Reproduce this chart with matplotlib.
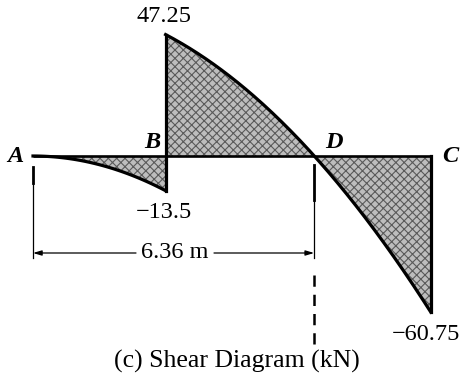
import numpy as np
import matplotlib
matplotlib.use("Agg")
import matplotlib.pyplot as plt

# ---- data ----
pos_A, pos_B, pos_D, pos_C = 0.0, 3.0, 6.36, 9.0
V_B_left = -13.5
V_B_right = 47.25
V_C = -60.75
point_labels = ["A", "B", "D", "C"]
dim_label = "6.36 m"
title = "(c) Shear Diagram (kN)"

# shear function pieces (triangular load, w/(2L) = 1.5 kN/m^2)
k = -V_B_left / pos_B**2           # 1.5
x1 = np.linspace(pos_A, pos_B, 100)
v1 = -k * x1**2
x2 = np.linspace(pos_B, pos_C, 200)
v2 = (V_B_right - V_B_left) - k * x2**2

# ---- figure ----
W, H = 462, 377
fig = plt.figure(figsize=(W/100, H/100), dpi=100)
ax = fig.add_axes([0, 0, 1, 1])
sx, sy = 44.2, 2.57            # px per unit
x0px, y0px = 33, 156
ax.set_xlim(-x0px/sx, (W - x0px)/sx)
ax.set_ylim((y0px - H)/sy, y0px/sy)
ax.axis("off")

def py(p):  # pixel row -> data y
    return (y0px - p)/sy

def px(p):  # pixel column -> data x
    return (p - x0px)/sx

plt.rcParams['hatch.linewidth'] = 0.8
fillkw = dict(facecolor="#bdbdbd", edgecolor="#5a5a5a", hatch="xxxx", linewidth=0)
ax.fill_between(x1, v1, 0, **fillkw)
ax.fill_between(x2, v2, 0, **fillkw)

lw = 2.3
ax.plot([pos_A, pos_C], [0, 0], color="black", lw=1.9, solid_capstyle="butt")
ax.plot(x1, v1, color="black", lw=lw)
ax.plot([pos_B, pos_B], [V_B_left, V_B_right], color="black", lw=lw)
ax.plot(x2, v2, color="black", lw=lw)
ax.plot([pos_C, pos_C], [V_C, 0], color="black", lw=lw)

serif = ["Liberation Serif", "DejaVu Serif"]
fs = 17.5

# point letters
lab_off = {"A": (-18, -1), "B": (-13, 13), "D": (20, 13), "C": (19, -1)}
for name, xv in zip(point_labels, [pos_A, pos_B, pos_D, pos_C]):
    ax.annotate(name, (xv, 0), xytext=lab_off[name], textcoords="offset pixels",
                ha="center", va="center", family=serif, fontsize=fs,
                fontweight="bold", fontstyle="italic")

# values
ax.annotate(f"{V_B_right:g}", (pos_B, V_B_right), xytext=(-2, 18), textcoords="offset pixels",
            ha="center", va="center", family=serif, fontsize=fs)
ax.annotate(f"\u2212{abs(V_B_left):g}", (pos_B, V_B_left), xytext=(-2, -22), textcoords="offset pixels",
            ha="center", va="center", family=serif, fontsize=fs)
ax.annotate(f"\u2212{abs(V_C):g}", (pos_C, V_C), xytext=(-5, -22), textcoords="offset pixels",
            ha="center", va="center", family=serif, fontsize=fs)

# dimension lines / ticks
ax.plot([pos_A, pos_A], [py(167), py(183)], color="black", lw=2.0)
ax.plot([pos_A, pos_A], [py(183), py(258)], color="black", lw=0.9)
ax.plot([pos_D, pos_D], [py(165), py(200)], color="black", lw=2.0)
ax.plot([pos_D, pos_D], [py(200), py(258)], color="black", lw=0.9)
ax.plot([pos_D, pos_D], [py(275), py(350)], color="black", lw=1.8,
        linestyle=(0, (4.5, 3.2)))

ydim = py(253)
xtext = px(175)
ax.text(xtext, ydim, dim_label, ha="center", va="center", family=serif, fontsize=fs)
arrow = dict(arrowstyle="-|>,head_length=0.5,head_width=0.15", color="black", lw=0.9,
             shrinkA=0, shrinkB=0)
ax.annotate("", xy=(pos_A, ydim), xytext=(px(136), ydim), arrowprops=arrow)
ax.annotate("", xy=(pos_D, ydim), xytext=(px(214), ydim), arrowprops=arrow)

ax.text(px(237), py(361), title, ha="center", va="center", family=serif, fontsize=18.5)

fig.savefig("out.png", dpi=100)
